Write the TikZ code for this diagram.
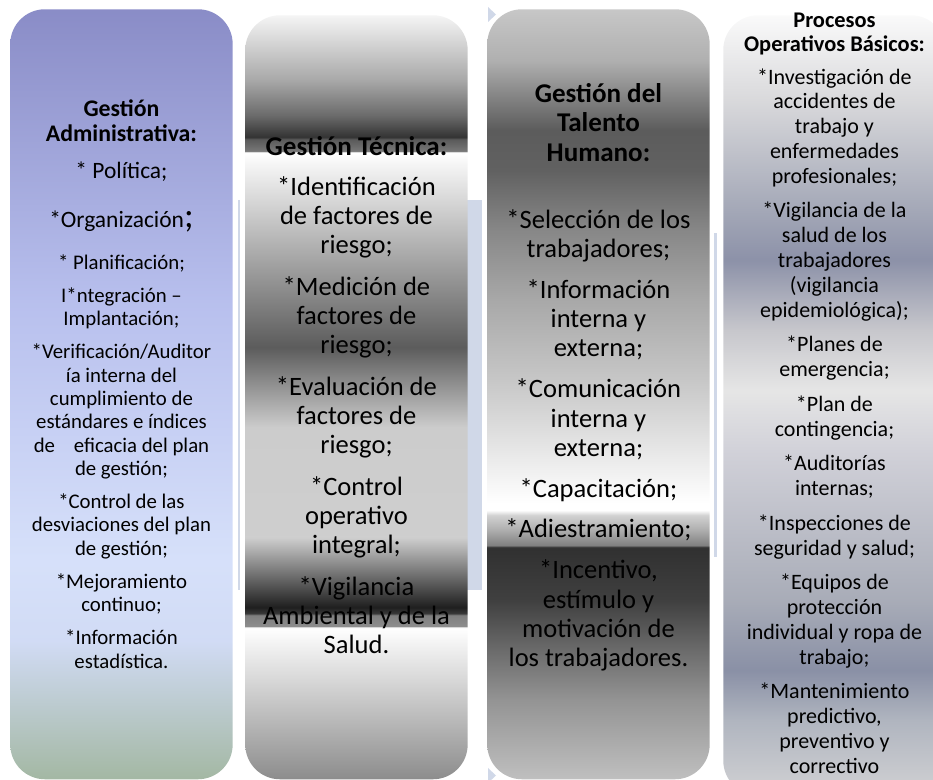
\documentclass[tikz,border=0pt]{standalone}
\usepackage{fontspec}
\setmainfont{Carlito}
\usetikzlibrary{positioning}

\definecolor{backarrow}{HTML}{D0D8E8}

\newcommand{\fsz}[1]{\fontsize{#1}{#1}\selectfont}

% column fills: the box runs from 25bp (bottom) to 75bp (top)
\pgfdeclareverticalshading{admfill}{100bp}{rgb(0bp)=(0.64,0.72,0.64);
  rgb(25bp)=(0.64,0.72,0.64); rgb(34bp)=(0.82,0.86,0.96);
  rgb(39.2bp)=(0.84,0.88,0.98); rgb(56.1bp)=(0.72,0.75,0.93);
  rgb(75bp)=(0.54,0.55,0.78); rgb(100bp)=(0.54,0.55,0.78)}
\pgfdeclareverticalshading{tecfill}{100bp}{rgb(0bp)=(0.55,0.55,0.55);
  rgb(25bp)=(0.55,0.55,0.55); rgb(34.94bp)=(1,1,1);
  rgb(35.01bp)=(0.55,0.55,0.55); rgb(35.73bp)=(0.50,0.50,0.50);
  rgb(35.86bp)=(0.22,0.22,0.22); rgb(36.25bp)=(0.12,0.12,0.12);
  rgb(40.84bp)=(0.81,0.81,0.81); rgb(48.04bp)=(0.80,0.80,0.80);
  rgb(53.27bp)=(0.36,0.36,0.36); rgb(66.03bp)=(1,1,1);
  rgb(66.10bp)=(0.47,0.47,0.47); rgb(66.88bp)=(0.35,0.35,0.35);
  rgb(67.02bp)=(0.20,0.20,0.20); rgb(68.45bp)=(0.42,0.42,0.42);
  rgb(70.75bp)=(0.66,0.66,0.66); rgb(75bp)=(0.96,0.96,0.96);
  rgb(100bp)=(0.96,0.96,0.96)}
\pgfdeclareverticalshading{talfill}{100bp}{rgb(0bp)=(0.75,0.75,0.75);
  rgb(25bp)=(0.75,0.75,0.75); rgb(30.13bp)=(0.58,0.58,0.58);
  rgb(33.38bp)=(0.42,0.42,0.42); rgb(36.62bp)=(0.25,0.25,0.25);
  rgb(40.06bp)=(0.19,0.19,0.19); rgb(40.19bp)=(0.50,0.50,0.50);
  rgb(41.17bp)=(0.68,0.68,0.68); rgb(42.14bp)=(0.82,0.82,0.82);
  rgb(42.47bp)=(1,1,1); rgb(42.92bp)=(1,1,1);
  rgb(45.06bp)=(0.94,0.94,0.94); rgb(50.91bp)=(0.78,0.78,0.78);
  rgb(56.10bp)=(0.66,0.66,0.66); rgb(60.65bp)=(0.53,0.53,0.53);
  rgb(64.55bp)=(0.38,0.38,0.38); rgb(67.14bp)=(0.36,0.36,0.36);
  rgb(69.09bp)=(0.50,0.50,0.50); rgb(71.69bp)=(0.69,0.69,0.69);
  rgb(75bp)=(0.78,0.78,0.78); rgb(100bp)=(0.78,0.78,0.78)}
\pgfdeclareverticalshading{pobfill}{100bp}{rgb(0bp)=(0.82,0.82,0.83);
  rgb(25bp)=(0.82,0.82,0.83); rgb(29.81bp)=(0.69,0.71,0.75);
  rgb(33.01bp)=(0.54,0.565,0.65); rgb(37.5bp)=(0.66,0.675,0.72);
  rgb(47.12bp)=(0.82,0.82,0.85); rgb(50.96bp)=(0.90,0.90,0.90);
  rgb(54.81bp)=(0.78,0.78,0.80); rgb(59.29bp)=(0.55,0.57,0.66);
  rgb(63.14bp)=(0.66,0.675,0.73); rgb(69.55bp)=(0.85,0.85,0.86);
  rgb(75bp)=(0.98,0.98,0.98); rgb(100bp)=(0.98,0.98,0.98)}

\begin{document}
\begin{tikzpicture}[
  x=0.75pt, y=-0.75pt,
  column/.style={rectangle, rounded corners=26pt, minimum width=166.8pt, inner sep=0pt, anchor=north west},
  coltext/.style={align=center, inner sep=0pt, text=black},
  admbody/.style={coltext, font=\fontsize{15.6}{17.5}\selectfont},
  tecbody/.style={coltext, font=\fontsize{19.9}{22}\selectfont},
  pobbody/.style={coltext, font=\fontsize{16.5}{18.6}\selectfont}
]
\useasboundingbox (0,0) rectangle (933,780);

% === pale arrow behind the columns ===
\draw[backarrow, line width=1.1pt] (239,200) -- (239,590);
\fill[backarrow] (467,200) rectangle (482,590);
\fill[backarrow] (714,233) rectangle (717,557);
\fill[backarrow] (488,7) -- (496,14.5) -- (488,22) -- cycle;
\fill[backarrow] (488,768) -- (496,775.5) -- (488,783) -- cycle;

% === COLUMNS ===
\node[column, shading=admfill, minimum height=577.5pt] (adm) at (10,9) {};
\node[column, shading=tecfill, minimum height=573pt] (tec) at (245,15) {};
\node[column, shading=talfill, minimum height=577.5pt] (tal) at (487,9) {};
\node[column, shading=pobfill, minimum height=585pt] (pob) at (723,15) {};

% === COLUMN TEXTS ===
\node[admbody, below=62.4pt of adm.north] (admtext) {%
  {\fsz{17.85}\bfseries\rule{0pt}{1em}Gestión}\\[1.3pt]
  {\fsz{17.85}\bfseries Administrativa:}\\[10.3pt]
  {\fsz{17.6}* Política;}\\[19.3pt]
  {\fsz{17.6}*Organización{\fsz{27};}}\\[14pt]
  * Planificación;\\[7.3pt]
  I*ntegración –\\
  Implantación;\\[7.3pt]
  *Verificación/Auditor\\
  ía interna del\\
  cumplimiento de\\
  estándares e índices\\
  de\ \ \ \ eficacia del plan\\
  de gestión;\\[7.3pt]
  *Control de las\\
  desviaciones del plan\\
  de gestión;\\[7.3pt]
  *Mejoramiento\\
  continuo;\\[7.3pt]
  *Información\\
  estadística.};

\node[tecbody, below=84.75pt of tec.north] (tectext) {%
  {\fsz{20.3}\bfseries\rule{0pt}{1em}Gestión Técnica:}\\[7.9pt]
  *Identificación\\
  de factores de\\
  riesgo;\\[9pt]
  *Medición de\\
  factores de\\
  riesgo;\\[9pt]
  *Evaluación de\\
  factores de\\
  riesgo;\\[9pt]
  *Control\\
  operativo\\
  integral;\\[9pt]
  *Vigilancia\\
  Ambiental y de la\\
  Salud.};

\node[tecbody, below=49.5pt of tal.north] (taltext) {%
  {\fsz{20.3}\bfseries\rule{0pt}{1em}Gestión del}\\
  {\fsz{20.3}\bfseries Talento}\\
  {\fsz{20.3}\bfseries Humano:}\\[28.3pt]
  *Selección de los\\
  trabajadores;\\[8.6pt]
  *Información\\
  interna y\\
  externa;\\[8.6pt]
  *Comunicación\\
  interna y\\
  externa;\\[8.6pt]
  *Capacitación;\\[8.6pt]
  *Adiestramiento;\\[8.6pt]
  *Incentivo,\\
  estímulo y\\
  motivación de\\
  los trabajadores.};

\node[pobbody, below=-7.8pt of pob.north] (pobtext) {%
  {\fsz{16.8}\bfseries\rule{0pt}{1em}Procesos}\\[-0.6pt]
  {\fsz{16.8}\bfseries Operativos Básicos:}\\[6pt]
  *Investigación de\\
  accidentes de\\
  trabajo y\\
  enfermedades\\
  profesionales;\\[7.4pt]
  *Vigilancia de la\\
  salud de los\\
  trabajadores\\
  (vigilancia\\
  epidemiológica);\\[7.4pt]
  *Planes de\\
  emergencia;\\[7.4pt]
  *Plan de\\
  contingencia;\\[7.4pt]
  *Auditorías\\
  internas;\\[7.4pt]
  *Inspecciones de\\
  seguridad y salud;\\[7.4pt]
  *Equipos de\\
  protección\\
  individual y ropa de\\
  trabajo;\\[7.4pt]
  *Mantenimiento\\
  predictivo,\\
  preventivo y\\
  correctivo};

\end{tikzpicture}
\end{document}
